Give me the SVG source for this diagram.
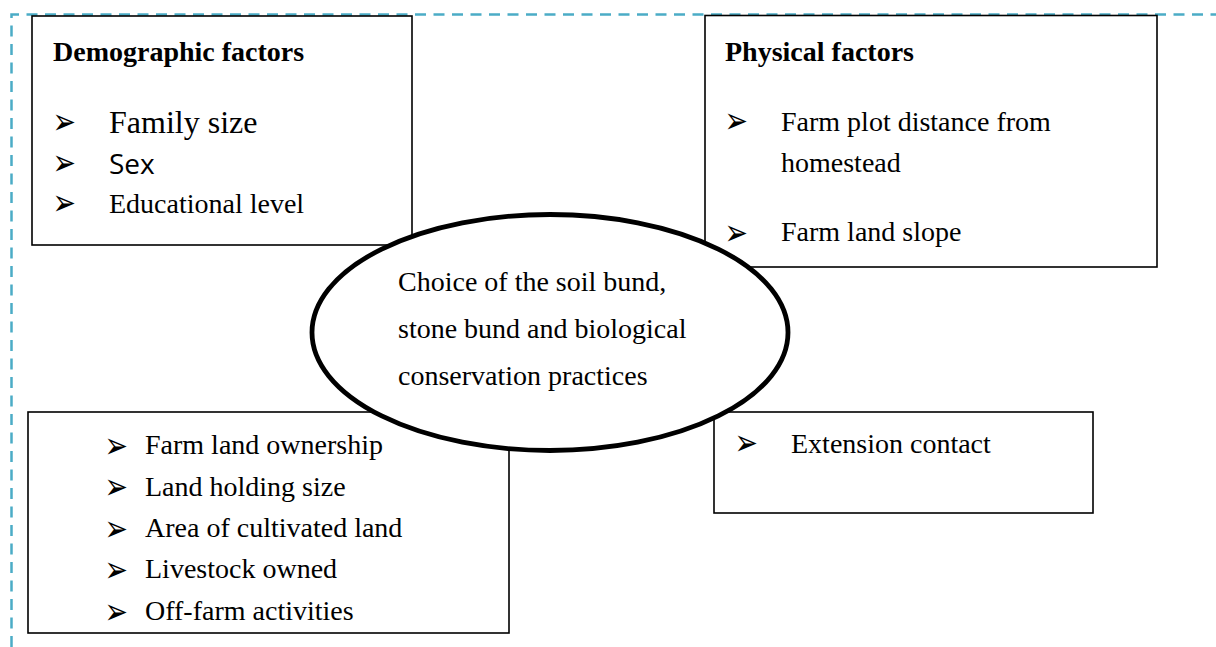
<svg xmlns="http://www.w3.org/2000/svg" width="1216" height="647" viewBox="0 0 1216 647">
<style>
.frame{fill:none;stroke:#4BACC6;stroke-width:2.5;stroke-dasharray:11 7.5}
.box{fill:#fff;stroke:#000;stroke-width:1.6}
.oval{fill:#fff;stroke:#000;stroke-width:4.8}
.t{font-family:"Liberation Serif","Times New Roman",serif;font-size:28px;fill:#000}
.b{font-weight:bold}
.big{font-size:32px}
.sans{font-family:"Open Sans","Noto Sans",sans-serif;font-size:28px;fill:#000}
.bul{font-family:"DejaVu Sans",sans-serif;font-size:28px;fill:#000}
</style>
<path class="frame" d="M11.5,647 V14.5 H1216"/>
<g id="demographic">
<rect class="box" x="32" y="16" width="380" height="229"/>
<text class="t b" x="53" y="61">Demographic factors</text>
<text class="bul" transform="translate(52.5,133.5) scale(1,1.3)">➢</text>
<text class="t big" x="109" y="133">Family size</text>
<text class="bul" transform="translate(52.5,174.5) scale(1,1.3)">➢</text>
<text class="sans" x="109" y="174">Sex</text>
<text class="bul" transform="translate(52.5,215) scale(1,1.3)">➢</text>
<text class="t" x="109" y="213">Educational level</text>
</g>
<g id="physical">
<rect class="box" x="705" y="15.5" width="452" height="251.5"/>
<text class="t b" x="725" y="61">Physical factors</text>
<text class="bul" transform="translate(724.5,133) scale(1,1.3)">➢</text>
<text class="t" x="781" y="131">Farm plot distance from</text>
<text class="t" x="781" y="172">homestead</text>
<text class="bul" transform="translate(724.5,244.5) scale(1,1.3)">➢</text>
<text class="t" x="781" y="241">Farm land slope</text>
</g>
<g id="land">
<rect class="box" x="28" y="412" width="481" height="221"/>
<text class="bul" transform="translate(104.5,457.5) scale(1,1.3)">➢</text>
<text class="t" x="145" y="454">Farm land ownership</text>
<text class="bul" transform="translate(104.5,499) scale(1,1.3)">➢</text>
<text class="t" x="145" y="496">Land holding size</text>
<text class="bul" transform="translate(104.5,540.5) scale(1,1.3)">➢</text>
<text class="t" x="145" y="537">Area of cultivated land</text>
<text class="bul" transform="translate(104.5,581.5) scale(1,1.3)">➢</text>
<text class="t" x="145" y="578">Livestock owned</text>
<text class="bul" transform="translate(104.5,623.5) scale(1,1.3)">➢</text>
<text class="t" x="145" y="620">Off-farm activities</text>
</g>
<g id="extension">
<rect class="box" x="714" y="412" width="379" height="101"/>
<text class="bul" transform="translate(734.5,455) scale(1,1.3)">➢</text>
<text class="t" x="791" y="453">Extension contact</text>
</g>
<g id="choice">
<ellipse class="oval" cx="550" cy="332.5" rx="238" ry="118"/>
<text class="t" x="398" y="291">Choice of the soil bund,</text>
<text class="t" x="398" y="338">stone bund and biological</text>
<text class="t" x="398" y="385">conservation practices</text>
</g>
<g id="connectors"/>
</svg>
